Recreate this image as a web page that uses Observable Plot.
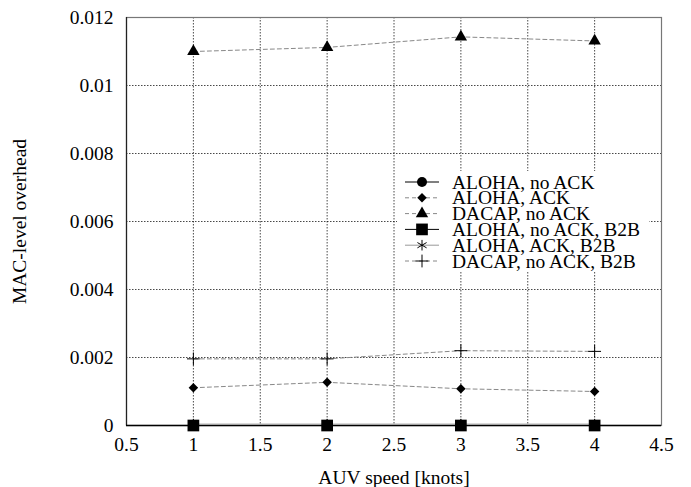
<!DOCTYPE html>
<html><head><meta charset="utf-8">
<script src="https://cdn.jsdelivr.net/npm/d3@7"></script>
<script src="https://cdn.jsdelivr.net/npm/@observablehq/plot@0.6"></script>
<style>
body{margin:0;background:#fff;}
#wrap{position:relative;width:691px;height:487px;font-family:"Liberation Serif","Times New Roman",serif;}
#legend{position:absolute;left:397px;top:171px;width:252px;height:101px;background:#fff;}
</style></head><body><div id="wrap"></div>
<script>
// ---- data ----
const speeds = [1, 2, 3, 4];
const seriesNames = ["ALOHA, no ACK", "ALOHA, ACK", "DACAP, no ACK", "ALOHA, no ACK, B2B", "ALOHA, ACK, B2B", "DACAP, no ACK, B2B"];
const alohaNoAck = [0, 0, 0, 0];
const alohaAck = [0.00111, 0.00127, 0.00108, 0.00100];
const dacapNoAck = [0.01100, 0.01112, 0.01143, 0.01131];
const alohaNoAckB2B = [0, 0, 0, 0];
const alohaAckB2B = [0.00004, 0.00004, 0.00004, 0.00004];
const dacapNoAckB2B = [0.00196, 0.00196, 0.00220, 0.00218];
const xTicks = [0.5, 1, 1.5, 2, 2.5, 3, 3.5, 4, 4.5];
const yTicks = [0, 0.002, 0.004, 0.006, 0.008, 0.01, 0.012];

// ---- styles ----
const seriesValues = [alohaNoAck, alohaAck, dacapNoAck, alohaNoAckB2B, alohaAckB2B, dacapNoAckB2B];
const styles = [
  {symbol: "circle", r: 5, line: "#000", dash: null, filled: true},
  {symbol: "diamond2", r: 4.3, line: "#888", dash: "4,3", filled: true},
  {symbol: "triangle", r: 4.6, line: "#888", dash: "4,3", filled: true},
  {symbol: "square", r: 6.6, line: "#000", dash: null, filled: true},
  {symbol: "asterisk", r: 5, line: "#999", dash: null, filled: false},
  {symbol: "plus", r: 4.2, line: "#888", dash: "4,3", filled: false}
];
const order = [4, 5, 1, 2, 0, 3];

const rows = [];
seriesNames.forEach((name, i) => speeds.forEach((s, j) => rows.push({series: name, i, speed: s, value: seriesValues[i][j]})));

const font = '"Liberation Serif","Times New Roman",serif';
const lineMarks = order.map(i => Plot.line(rows.filter(d => d.i === i), {
  x: "speed", y: "value", stroke: styles[i].line, strokeWidth: 1,
  strokeDasharray: styles[i].dash || undefined
}));
const dotMarks = order.map(i => Plot.dot(rows.filter(d => d.i === i), {
  x: "speed", y: "value", symbol: () => styles[i].symbol, r: styles[i].r,
  fill: styles[i].filled ? "#000" : "none",
  stroke: styles[i].filled ? "none" : "#000", strokeWidth: 1
}));

const fmt = d => String(+d.toFixed(3));
const chart = Plot.plot({
  width: 691, height: 487,
  marginLeft: 126, marginRight: 30, marginTop: 17, marginBottom: 62,
  style: {fontFamily: font, fontSize: "19.5px", color: "#000", background: "#fff"},
  x: {domain: [0.5, 4.5]},
  y: {domain: [0, 0.012]},
  symbol: {type: "identity"},
  marks: [
    Plot.gridX(xTicks.slice(1, -1), {stroke: "#000", strokeOpacity: 0.9, strokeDasharray: "1.5,1.5", strokeWidth: 0.8}),
    Plot.gridY(yTicks.slice(1, -1), {stroke: "#000", strokeOpacity: 0.9, strokeDasharray: "1.5,1.5", strokeWidth: 0.8}),
    Plot.frame({stroke: "#777", strokeWidth: 1.2}),
    Plot.ruleX([0.5], {stroke: "#222", strokeWidth: 1.2}),
    Plot.ruleY([0], {stroke: "#000", strokeWidth: 1.5}),
    Plot.axisX(xTicks, {tickSize: 0, tickPadding: 12, tickFormat: fmt, fontSize: 19.5,
      label: "AUV speed [knots]", labelAnchor: "center", labelArrow: "none", labelOffset: 58}),
    Plot.axisY(yTicks, {tickSize: 0, tickPadding: 13, tickFormat: fmt, fontSize: 19.5,
      label: "MAC-level overhead", labelAnchor: "center", labelArrow: "none", labelOffset: 114}),
    ...lineMarks,
    ...dotMarks
  ]
});
const wrap = document.getElementById("wrap");
wrap.appendChild(chart);

// ---- legend (inside plot area, opaque) ----
const leg = document.createElement("div");
leg.id = "legend";
wrap.appendChild(leg);
const lsvg = d3.select(leg).append("svg").attr("width", 252).attr("height", 101)
  .style("font-family", font).style("font-size", "19.5px");
const symMap = {circle: d3.symbolCircle, diamond2: d3.symbolDiamond2, triangle: d3.symbolTriangle,
  square: d3.symbolSquare, asterisk: d3.symbolAsterisk, plus: d3.symbolPlus};
seriesNames.forEach((name, i) => {
  const y = 11 + i * 15.8;
  const g = lsvg.append("g").attr("transform", `translate(0,${y})`);
  g.append("line").attr("x1", 8).attr("x2", 42).attr("y1", 0).attr("y2", 0)
    .attr("stroke", styles[i].line).attr("stroke-width", 1)
    .attr("stroke-dasharray", styles[i].dash);
  const area = Math.PI * styles[i].r * styles[i].r;
  g.append("path").attr("transform", "translate(25,0)")
    .attr("d", d3.symbol(symMap[styles[i].symbol], area)())
    .attr("fill", styles[i].filled ? "#000" : "none")
    .attr("stroke", styles[i].filled ? "none" : "#000");
  g.append("text").attr("x", 55).attr("y", 0).attr("dy", "0.34em").text(name);
});
</script></body></html>
